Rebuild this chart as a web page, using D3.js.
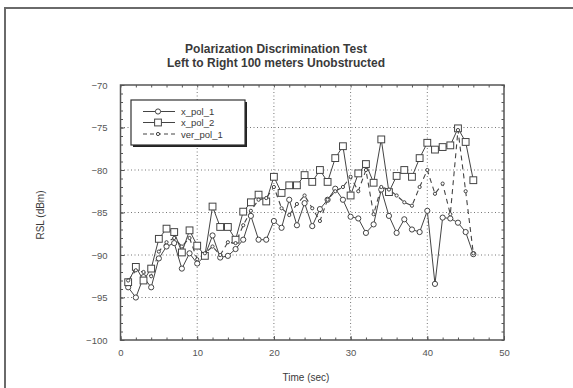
<!DOCTYPE html>
<html><head><meta charset="utf-8">
<script src="https://cdn.jsdelivr.net/npm/d3@7"></script>
<style>body{margin:0;background:#fff}svg{display:block}text{font-family:"Liberation Sans",Arial,Helvetica,sans-serif}</style>
</head><body><svg id="c" width="573" height="388"></svg>
<script>
const times = [1,2,3,4,5,6,7,8,9,10,11,12,13,14,15,16,17,18,19,20,21,22,23,24,25,26,27,28,29,30,31,32,33,34,35,36,37,38,39,40,41,42,43,44,45,46];
const xPol1 = [-93.8,-95.0,-92.6,-93.8,-90.4,-89.0,-88.6,-91.6,-89.8,-91.0,-90.1,-87.7,-90.3,-90.1,-89.3,-88.2,-85.4,-88.2,-88.2,-86.0,-86.8,-83.5,-86.5,-83.9,-86.6,-84.6,-83.5,-82.2,-83.5,-85.5,-85.7,-87.4,-86.4,-82.3,-85.4,-87.4,-85.8,-87.0,-87.3,-84.8,-93.4,-85.6,-85.7,-86.2,-87.3,-89.9];
const xPol2 = [-93.2,-91.4,-93.0,-91.6,-88.1,-86.9,-87.3,-89.7,-87.1,-88.9,-90.1,-84.3,-86.7,-86.7,-88.2,-84.9,-83.8,-82.9,-83.7,-80.8,-82.7,-81.8,-81.8,-80.6,-81.4,-80.0,-81.4,-78.6,-77.2,-83.0,-80.4,-79.3,-81.5,-76.4,-82.6,-80.7,-80.0,-80.8,-78.6,-76.8,-77.6,-77.3,-77.1,-75.1,-76.7,-81.2];
const verPol1 = [-93.0,-91.8,-92.0,-92.5,-89.6,-88.5,-88.0,-89.0,-88.0,-90.5,-89.8,-89.0,-90.0,-88.5,-88.6,-86.5,-84.8,-83.5,-83.3,-82.0,-84.5,-85.3,-84.0,-83.0,-84.5,-86.0,-83.5,-82.5,-82.0,-80.8,-82.5,-80.0,-85.2,-82.0,-82.3,-83.0,-83.8,-84.2,-82.0,-80.0,-82.8,-81.6,-85.2,-75.3,-82.5,-89.8];
const seriesNames = ["x_pol_1","x_pol_2","ver_pol_1"];
const xTicks = [0,10,20,30,40,50];
const yTicks = [-100,-95,-90,-85,-80,-75,-70];
const titleLines = ["Polarization Discrimination Test","Left to Right 100 meters Unobstructed"];
const xLabel = "Time (sec)";
const yLabel = "RSL (dBm)";

const svg = d3.select("#c");
const ink = "#3a3a3a";
const L = 120.5, R = 504, T = 85, B = 340;
const x = d3.scaleLinear().domain([0,50]).range([L,R]);
const y = d3.scaleLinear().domain([-100,-70]).range([B,T]);

// outer frame
svg.append("rect").attr("x",5).attr("y",8).attr("width",580).attr("height",400)
  .attr("fill","#fff").attr("stroke","#6a6a6a").attr("stroke-width",2);

// titles
svg.append("text").attr("x",276).attr("y",52.5).attr("text-anchor","middle")
  .attr("font-size",12).attr("font-weight","bold").attr("fill",ink).text(titleLines[0]);
svg.append("text").attr("x",276).attr("y",67).attr("text-anchor","middle")
  .attr("font-size",12).attr("font-weight","bold").attr("fill",ink).text(titleLines[1]);

// grid
const g = svg.append("g");
g.selectAll(".gx").data(xTicks.filter(d=>d>0&&d<50)).join("line")
  .attr("x1",d=>x(d)).attr("x2",d=>x(d)).attr("y1",T).attr("y2",B)
  .attr("stroke","#777").attr("stroke-width",1).attr("stroke-dasharray","1,2.5");
g.selectAll(".gy").data(yTicks.filter(d=>d>-100&&d<-70)).join("line")
  .attr("x1",L).attr("x2",R).attr("y1",d=>y(d)).attr("y2",d=>y(d))
  .attr("stroke","#777").attr("stroke-width",1).attr("stroke-dasharray","1,2.5");

// axes with inward ticks on all sides
const fmt = d3.format("d");
function styleAxis(sel){
  sel.select(".domain").remove();
  sel.selectAll("line").attr("stroke","#555");
  sel.selectAll("text").attr("fill","#555").attr("font-size",9.5).style("font-family","'Liberation Sans',Arial,sans-serif");
}
const xMinor = d3.range(0,51,2);
const yMinor = d3.range(-100,-69,1);
svg.append("g").attr("transform",`translate(0,${B})`)
  .call(d3.axisBottom(x).tickValues(xTicks).tickFormat(fmt).tickSizeInner(-4).tickSizeOuter(0).tickPadding(9))
  .call(styleAxis);
svg.append("g").attr("transform",`translate(0,${B})`)
  .call(d3.axisBottom(x).tickValues(xMinor).tickFormat("").tickSizeInner(-2.5).tickSizeOuter(0)).call(styleAxis);
svg.append("g").attr("transform",`translate(0,${T})`)
  .call(d3.axisTop(x).tickValues(xMinor).tickFormat("").tickSizeInner(-2.5).tickSizeOuter(0)).call(styleAxis);
svg.append("g").attr("transform",`translate(${L},0)`)
  .call(d3.axisLeft(y).tickValues(yTicks).tickFormat(d=>fmt(d)).tickSizeInner(-4).tickSizeOuter(0).tickPadding(13))
  .call(styleAxis);
svg.append("g").attr("transform",`translate(${L},0)`)
  .call(d3.axisLeft(y).tickValues(yMinor).tickFormat("").tickSizeInner(-2.5).tickSizeOuter(0)).call(styleAxis);
svg.append("g").attr("transform",`translate(${R},0)`)
  .call(d3.axisRight(y).tickValues(yMinor).tickFormat("").tickSizeInner(-2.5).tickSizeOuter(0)).call(styleAxis);

// plot frame
svg.append("rect").attr("x",L).attr("y",T).attr("width",R-L).attr("height",B-T)
  .attr("fill","none").attr("stroke","#555").attr("stroke-width",1.5);

// axis labels
svg.append("text").attr("x",306).attr("y",380.5).attr("text-anchor","middle")
  .attr("font-size",10).attr("fill",ink).text(xLabel);
svg.append("text").attr("transform","translate(44,215) rotate(-90)").attr("text-anchor","middle")
  .attr("font-size",10).attr("fill",ink).text(yLabel);

// series
const line = d3.line().x(d=>x(d[0])).y(d=>y(d[1]));
const defs = [
  {name:seriesNames[0], vals:xPol1, dash:null, marker:"circle", r:2.6, w:1},
  {name:seriesNames[1], vals:xPol2, dash:null, marker:"square", r:3.4, w:1},
  {name:seriesNames[2], vals:verPol1, dash:"5,4", marker:"circle", r:1.6, w:1.1}
];
const plot = svg.append("g");
defs.forEach(s=>{
  const pts = times.map((t,i)=>[t,s.vals[i]]);
  plot.append("path").attr("d",line(pts)).attr("fill","none")
    .attr("stroke","#444").attr("stroke-width",s.w).attr("stroke-dasharray",s.dash);
});
function drawMarker(gsel, s, cx, cy){
  if(s.marker==="square"){
    gsel.append("rect").attr("x",cx-s.r).attr("y",cy-s.r).attr("width",2*s.r).attr("height",2*s.r)
      .attr("fill","#fff").attr("stroke","#444").attr("stroke-width",1);
  } else {
    gsel.append("circle").attr("cx",cx).attr("cy",cy).attr("r",s.r)
      .attr("fill","#fff").attr("stroke","#444").attr("stroke-width",1);
  }
}
defs.forEach(s=>{
  times.forEach((t,i)=>drawMarker(plot,s,x(t),y(s.vals[i])));
});

// legend
const lg = svg.append("g");
lg.append("rect").attr("x",133).attr("y",102).attr("width",114).attr("height",45).attr("fill","#222");
lg.append("rect").attr("x",131).attr("y",100).attr("width",114).attr("height",45)
  .attr("fill","#fff").attr("stroke","#333").attr("stroke-width",1.2);
const rowsY = [111.5,122.5,134];
defs.forEach((s,i)=>{
  lg.append("line").attr("x1",143).attr("x2",175).attr("y1",rowsY[i]).attr("y2",rowsY[i])
    .attr("stroke","#444").attr("stroke-width",s.w).attr("stroke-dasharray",s.dash?"4,3":null);
  drawMarker(lg,s,158,rowsY[i]);
  lg.append("text").attr("x",181).attr("y",rowsY[i]+3.5).attr("font-size",9.5).attr("fill",ink).text(s.name);
});
</script></body></html>
